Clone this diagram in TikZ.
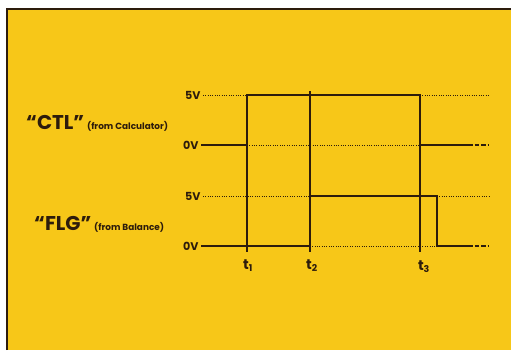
\documentclass[tikz,border=0pt]{standalone}
\usepackage{fontspec}
\setmainfont{Poppins}
\usetikzlibrary{positioning}
\definecolor{paper}{RGB}{247,199,24}
\definecolor{ink}{RGB}{45,28,12}

\begin{document}
\begin{tikzpicture}[x=0.03cm, y=-0.03cm,
  every node/.style={text=ink, inner sep=0pt},
  level/.style={font=\bfseries\fontsize{9.5}{10}\selectfont, anchor=east, inner sep=2pt},
  title/.style={font=\bfseries\fontsize{17}{19}\selectfont, anchor=base west},
  note/.style={font=\bfseries\fontsize{7.6}{9}\selectfont, anchor=base west},
  tick/.style={font=\bfseries\fontsize{12}{13}\selectfont, anchor=base},
  sig/.style={ink, line width=1.8pt},
  tline/.style={ink, line width=1pt},
  guide/.style={ink, line width=0.7pt, dash pattern=on 0.7pt off 1.3pt},
  tail/.style={ink, line width=1.8pt, dash pattern=on 4pt off 1.6pt}]
  \useasboundingbox (0,0) rectangle (511,350);
  \fill[white] (0,0) rectangle (511,350);
  \fill[paper] (7,9) rectangle (511,350);
  \draw[ink, line width=1.2pt] (7,350) -- (7,9) -- (511,9);

  % signal names
  \node[title] (ctl) at (26,129) {``CTL''};
  \node[note, right=2pt of ctl.base east, anchor=base west] (ctlsrc) {(from Calculator)};
  \node[title] (flg) at (34,230) {``FLG''};
  \node[note, right=2pt of flg.base east, anchor=base west] (flgsrc) {(from Balance)};

  % levels
  \node[level] (ctlhi) at (203,95) {5V};
  \node[level] (ctllo) at (201,145) {0V};
  \node[level] (flghi) at (203,196) {5V};
  \node[level] (flglo) at (201,246) {0V};

  % corners
  \coordinate (c1) at (247,145);
  \coordinate (c2) at (247,95);
  \coordinate (c3) at (420,95);
  \coordinate (c4) at (420,145);
  \coordinate (f1) at (310,246);
  \coordinate (f2) at (310,196);
  \coordinate (f3) at (437,196);
  \coordinate (f4) at (437,246);
  \coordinate (cend) at (468,145);
  \coordinate (fend) at (468,246);
  \coordinate (cfar) at (489,145);
  \coordinate (ffar) at (489,246);
  \coordinate (chfar) at (489,95);
  \coordinate (fhfar) at (489,196);

  % time markers
  \coordinate (m1) at (247,252);
  \coordinate (m2) at (310,252);
  \coordinate (m3) at (420,252);
  \coordinate (m2top) at (310,91);
  \draw[tline] (c1) -- (m1);
  \draw[tline] (m2top) -- (m2);
  \draw[tline] (c4) -- (m3);
  \node[tick] (t1) at (248,269) {t\textsubscript{1}};
  \node[tick] (t2) at (312,269) {t\textsubscript{2}};
  \node[tick] (t3) at (424,270) {t\textsubscript{3}};

  % dotted levels
  \draw[guide] (ctlhi.east) -- (c2);
  \draw[guide] (c1) -- (c4);
  \draw[guide] (c3) -- (chfar);
  \draw[guide] (flghi.east) -- (f2);
  \draw[guide] (f1) -- (f4);
  \draw[guide] (f3) -- (fhfar);

  % waveforms
  \draw[sig] (ctllo.east) -- (c1) -- (c2) -- (c3) -- (c4) -- (cend);
  \draw[tail] (cend) -- (cfar);
  \draw[sig] (flglo.east) -- (f1) -- (f2) -- (f3) -- (f4) -- (fend);
  \draw[tail] (fend) -- (ffar);
\end{tikzpicture}
\end{document}
